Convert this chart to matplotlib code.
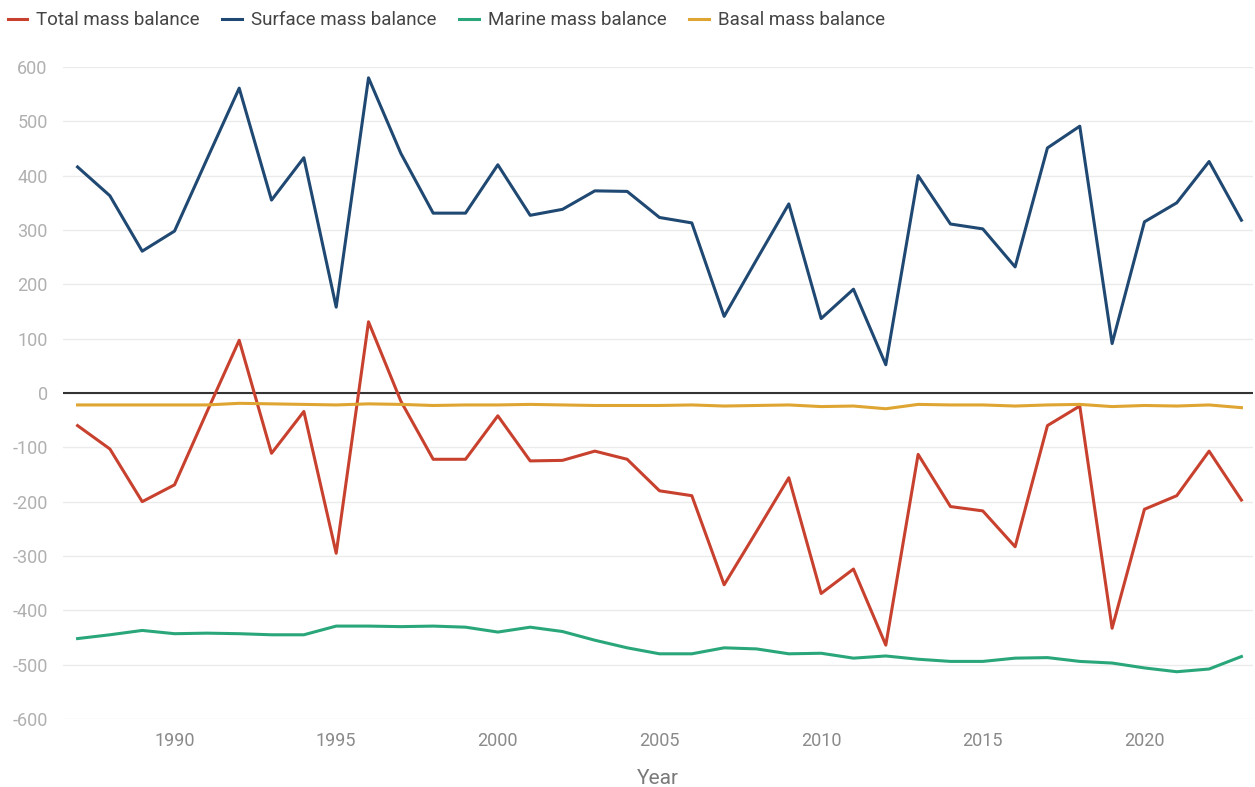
import matplotlib
matplotlib.use("Agg")
import matplotlib.pyplot as plt

plt.rcParams['font.family'] = ['Roboto', 'DejaVu Sans']
plt.rcParams['axes.unicode_minus'] = False

# data (Gt per year)
years = list(range(1987, 2024))
total = [-60, -103, -200, -169, -35, 97, -111, -34, -295, 131, -15, -122,
         -122, -42, -125, -124, -107, -122, -180, -189, -353, -255, -156, -369,
         -324, -464, -113, -209, -217, -283, -60, -24, -433, -214, -189, -107, -197]
surface = [416, 363, 261, 298, 430, 561, 355, 433, 158, 580, 441, 331,
           331, 420, 327, 338, 372, 371, 323, 313, 141, 245, 348, 137,
           191, 52, 400, 311, 302, 232, 451, 491, 91, 315, 350, 426, 318]
marine = [-452, -445, -437, -443, -442, -443, -445, -445, -429, -429, -430, -429,
          -431, -440, -431, -439, -455, -469, -480, -480, -469, -471, -480, -479,
          -488, -484, -490, -494, -494, -488, -487, -494, -497, -506, -513, -508, -485]
basal = [-22, -22, -22, -22, -22, -19, -20, -21, -22, -20, -21, -23,
         -22, -22, -21, -22, -23, -23, -23, -22, -24, -23, -22, -25,
         -24, -29, -21, -22, -22, -24, -22, -21, -25, -23, -24, -22, -27]

series = [
    ("Total mass balance", total, "#c8412e"),
    ("Surface mass balance", surface, "#1f4872"),
    ("Marine mass balance", marine, "#2aa77a"),
    ("Basal mass balance", basal, "#dfa532"),
]

fig = plt.figure(figsize=(12.55, 7.87), dpi=100)
ax = fig.add_axes([0.0502, 0.0864, 0.948, 0.8285])

for name, vals, col in series:
    ax.plot(years, vals, color=col, lw=2.2, label=name, zorder=3)

ax.axhline(0, color="#333333", lw=1.5, zorder=2)

ax.set_ylim(-600, 600)
ax.set_xlim(1986.55, 2023.35)
ax.set_yticks(range(-600, 601, 100))
ax.set_xticks(range(1990, 2021, 5))
ax.grid(axis="y", color="#ebebeb", lw=1)
ax.set_axisbelow(True)
for s in ax.spines.values():
    s.set_visible(False)
ax.tick_params(length=0)
ax.tick_params(axis="y", labelsize=13, labelcolor="#b0b0b0", pad=11)
ax.tick_params(axis="x", labelsize=13, labelcolor="#8a8a8a", pad=9)
ax.set_xlabel("Year", fontsize=15, color="#7a7a7a", labelpad=14)

fig.legend(loc="upper left", bbox_to_anchor=(0.0, 0.995), borderaxespad=0,
           ncol=4, frameon=False, fontsize=13.5, handlelength=1.05,
           handletextpad=0.48, columnspacing=1.2, labelcolor="#444444")

fig.savefig("out.png", dpi=100)
